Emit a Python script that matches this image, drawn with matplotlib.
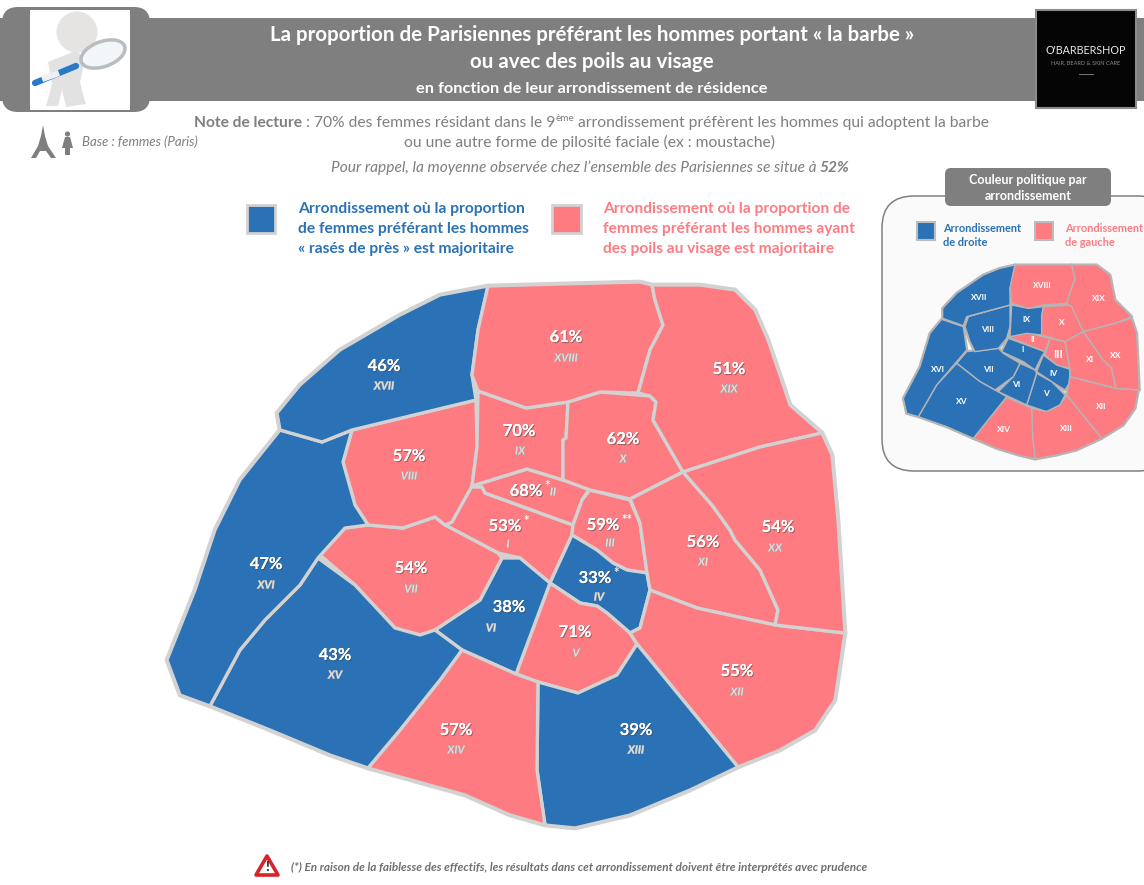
#!/usr/bin/env python3
import matplotlib
matplotlib.use('Agg')
import matplotlib.pyplot as plt
import matplotlib.patheffects as pe
from matplotlib.patches import Polygon, Rectangle, FancyBboxPatch, Circle, Ellipse

plt.rcParams['font.family'] = ['Lato', 'DejaVu Sans']

BLUE = '#2a72b5'
RED = '#fe7b82'
BORDER = '#d2d2d2'
GREY = '#7f7f7f'
TEXT = '#7f7f7f'

arrondissements = ['I', 'II', 'III', 'IV', 'V', 'VI', 'VII', 'VIII', 'IX', 'X',
                   'XI', 'XII', 'XIII', 'XIV', 'XV', 'XVI', 'XVII', 'XVIII', 'XIX', 'XX']
pct_barbe = [53, 68, 59, 33, 71, 38, 54, 57, 70, 62,
             56, 55, 39, 57, 43, 47, 46, 61, 51, 54]
etoiles = ['*', '*', '**', '*', '', '', '', '', '', '',
           '', '', '', '', '', '', '', '', '', '']
droite = ['I', 'IV', 'V', 'VI', 'VII', 'VIII', 'IX', 'XV', 'XVI', 'XVII']
moyenne = 52

# shapes of the districts, in pixels of the picture
shapes = {
    'I': [(470,487),(482,487),(485,493),(573,525),(572,535),(550,583),(520,558),(498,553),(445,525),(452,522)],
    'II': [(472,486),(527,469),(563,480),(590,488),(582,500),(573,525),(485,493),(482,487)],
    'III': [(590,490),(630,500),(640,523),(647,573),(627,570),(613,563),(597,550),(572,535),(573,525),(582,500)],
    'IV': [(572,535),(597,550),(613,563),(627,570),(647,573),(650,590),(640,628),(630,633),(607,613),(597,606),(580,603),(550,583)],
    'V': [(550,583),(580,603),(597,606),(607,613),(630,633),(637,644),(617,675),(578,693),(538,682),(516,674)],
    'VI': [(502,558),(520,558),(550,583),(516,674),(462,650),(435,630),(480,600)],
    'VII': [(368,525),(403,528),(435,517),(445,525),(498,553),(502,558),(480,600),(435,630),(420,635),(395,628),(355,585),(320,555),(345,528)],
    'VIII': [(476,400),(477,447),(472,486),(452,522),(445,525),(435,517),(403,528),(368,525),(355,505),(343,462),(352,430)],
    'IX': [(478,391),(526,408),(568,402),(566,438),(563,440),(563,480),(527,469),(472,486),(477,447)],
    'X': [(568,402),(600,392),(650,396),(656,402),(653,420),(683,472),(630,499),(590,490),(563,480),(563,440),(566,438)],
    'XI': [(683,472),(712,505),(730,530),(735,540),(760,570),(778,610),(775,625),(697,608),(650,590),(647,573),(640,523),(630,499)],
    'XII': [(650,590),(697,608),(775,625),(845,633),(835,700),(815,730),(780,750),(738,767),(637,644),(630,633),(640,628)],
    'XIII': [(538,682),(578,693),(617,675),(637,644),(738,767),(690,790),(630,815),(575,828),(545,825),(537,770)],
    'XIV': [(462,650),(516,674),(538,682),(537,770),(545,825),(510,815),(465,795),(368,768),(400,730),(440,680)],
    'XV': [(318,558),(355,585),(395,628),(420,635),(435,630),(462,650),(440,680),(400,730),(368,768),(330,755),(270,730),(210,706),(240,650),(265,620),(300,585)],
    'XVI': [(280,430),(322,442),(352,430),(343,462),(355,505),(368,525),(345,528),(318,558),(300,585),(265,620),(240,650),(210,706),(180,695),(167,660),(195,590),(215,530),(240,480)],
    'XVII': [(488,286),(478,330),(472,375),(476,400),(352,430),(322,442),(280,430),(277,413),(300,385),(340,350),(400,315),(440,295)],
    'XVIII': [(488,286),(560,284),(640,282),(652,285),(655,300),(663,325),(650,350),(638,393),(600,392),(568,402),(526,408),(478,391),(472,375),(478,330)],
    'XIX': [(652,285),(700,285),(735,290),(755,310),(768,340),(780,375),(790,405),(822,433),(760,447),(683,472),(653,420),(656,402),(650,396),(638,393),(650,350),(663,325),(655,300)],
    'XX': [(683,472),(760,447),(822,433),(832,455),(838,520),(845,633),(775,625),(778,610),(760,570),(735,540),(730,530),(712,505)],
}

# same districts on the small map, in 3x crop pixels from (870, 160)
small_shapes = {
    'I': [(415,535),(525,575),(515,590),(495,630),(460,605),(395,575)],
    'II': [(420,530),(470,518),(540,535),(525,575),(425,535)],
    'III': [(540,535),(585,545),(600,625),(560,615),(525,585)],
    'IV': [(520,585),(560,615),(600,628),(598,670),(585,690),(545,665),(500,635)],
    'V': [(500,640),(545,665),(585,705),(570,735),(530,755),(470,735)],
    'VI': [(450,610),(495,630),(500,640),(470,735),(385,695),(430,650)],
    'VII': [(290,575),(385,565),(400,580),(450,610),(430,650),(375,690),(330,665),(260,610)],
    'VIII': [(420,435),(420,500),(410,535),(385,565),(315,575),(300,545),(285,500),(295,470)],
    'IX': [(425,435),(475,445),(520,440),(515,470),(515,525),(470,520),(420,530)],
    'X': [(520,440),(605,435),(640,515),(585,545),(515,525),(515,470)],
    'XI': [(585,545),(640,515),(700,600),(725,625),(738,685),(660,665),(600,650),(600,625)],
    'XII': [(600,650),(735,685),(805,690),(795,745),(760,795),(695,835),(590,705)],
    'XIII': [(485,745),(530,755),(570,735),(590,705),(695,835),(620,870),(560,885),(495,897),(488,830)],
    'XIV': [(410,712),(485,745),(488,830),(495,897),(445,885),(380,865),(310,835)],
    'XV': [(260,610),(330,665),(375,690),(410,710),(310,835),(230,800),(145,770),(200,675)],
    'XVI': [(215,478),(280,500),(290,570),(260,605),(200,675),(145,770),(110,760),(100,715),(150,620),(180,520)],
    'XVII': [(435,315),(420,385),(420,435),(290,470),(280,497),(218,475),(218,445),(260,400),(340,345),(390,325)],
    'XVIII': [(435,315),(605,315),(615,355),(590,430),(520,435),(475,445),(425,430),(420,385)],
    'XIX': [(605,315),(680,315),(720,345),(735,420),(785,470),(735,490),(640,515),(605,440),(590,430),(615,355)],
    'XX': [(640,515),(735,490),(785,475),(800,520),(808,690),(738,685),(725,625),(700,600)],
}

# where the labels sit: percentage, then roman numeral
pct_pos = {'I':(505,526),'II':(526,491),'III':(603,525),'IV':(595,578),'V':(575,632),
           'VI':(509,607),'VII':(411,568),'VIII':(409,456),'IX':(519,431),'X':(623,439),
           'XI':(703,542),'XII':(737,671),'XIII':(636,730),'XIV':(456,730),'XV':(335,655),
           'XVI':(266,564),'XVII':(384,366),'XVIII':(566,337),'XIX':(729,369),'XX':(778,527)}
num_pos = {'I':(508,544),'II':(553,492),'III':(610,543),'IV':(599,597),'V':(576,653),
           'VI':(491,628),'VII':(411,589),'VIII':(409,476),'IX':(520,451),'X':(623,459),
           'XI':(703,562),'XII':(737,692),'XIII':(636,750),'XIV':(456,750),'XV':(335,675),
           'XVI':(266,585),'XVII':(384,386),'XVIII':(566,358),'XIX':(729,389),'XX':(775,548)}
small_pos = {'I':(457,570),'II':(487,538),'III':(563,582),'IV':(550,640),'V':(527,700),
             'VI':(438,673),'VII':(356,630),'VIII':(354,507),'IX':(469,480),'X':(575,488),
             'XI':(660,600),'XII':(695,740),'XIII':(590,805),'XIV':(402,808),'XV':(275,723),
             'XVI':(203,627),'XVII':(327,412),'XVIII':(517,378),'XIX':(687,415),'XX':(738,587)}


def px(size):
    return size * 0.72


def small_xy(p):
    return (870 + p[0] / 3, 160 + p[1] / 3)


def rounded(x0, y0, x1, y1, r, **kw):
    box = FancyBboxPatch((x0 + r, y0 + r), x1 - x0 - 2 * r, y1 - y0 - 2 * r,
                         boxstyle=f'round,pad={r},rounding_size={r}', **kw)
    ax.add_patch(box)


def runs(x, y, parts, center=False):
    # text made of several styles on one baseline
    rend = fig.canvas.get_renderer()
    made = []
    for txt, kw in parts:
        dy = kw.pop('dy', 0)
        t = ax.text(x, y + dy, txt, ha='left', va='baseline', **kw)
        made.append(t)
        x += t.get_window_extent(rend).width
    if center:
        total = x - made[0].get_position()[0]
        for t in made:
            tx, ty = t.get_position()
            t.set_position((tx - total / 2, ty))


fig = plt.figure(figsize=(11.44, 8.85), dpi=100)
ax = fig.add_axes([0, 0, 1, 1])
ax.set_xlim(0, 1144)
ax.set_ylim(885, 0)
ax.axis('off')

# header band
ax.add_patch(Rectangle((0, 18), 1144, 83, fc=GREY, ec='none'))
rounded(2, 7, 150, 112, 16, fc=GREY, ec='none')

# magnifying glass man
ax.add_patch(Rectangle((30, 10), 100, 100, fc='white', ec='none'))
ax.add_patch(Polygon([(48, 62), (78, 50), (84, 64), (80, 82), (84, 98), (86, 104), (66, 107), (62, 90),
                      (58, 106), (46, 106), (52, 84), (50, 72)], fc='#e2e2e2', ec='none'))
ax.add_patch(Circle((77, 32), 20.5, fc='#e6e4e2', ec='none'))
ax.add_patch(Ellipse((103, 54), 46, 25, angle=-20, fc='#f3f6f8', ec='#b9bdc0', lw=2.5))
ax.plot([35, 76], [83, 66], color='#2a78c8', lw=4.5, solid_capstyle='round')
ax.plot([45, 56], [78, 74], color='#f0f0f0', lw=4.5)

# logo
ax.add_patch(Rectangle((1036, 10), 100, 98, fc='#050505', ec='#8c8c8c', lw=1.5, zorder=3))
ax.text(1086, 50, "O'BARBERSHOP", color='#e8e8e8', fontsize=px(10.8), ha='center', va='center', zorder=4)
ax.text(1086, 63, 'HAIR, BEARD & SKIN CARE', color='#8a8a8a', fontsize=px(5.7), ha='center', va='center', zorder=4)
ax.plot([1079, 1093], [73.5, 73.5], color='#777777', lw=0.7, zorder=4)

# title
ax.text(592, 35, 'La proportion de Parisiennes préférant les hommes portant « la barbe »',
        color='white', fontsize=px(20.5), fontweight='bold', ha='center', va='center')
ax.text(592, 62, 'ou avec des poils au visage', color='white', fontsize=px(20.5),
        fontweight='bold', ha='center', va='center')
ax.text(592, 89, 'en fonction de leur arrondissement de résidence', color='white',
        fontsize=px(16.4), fontweight='bold', ha='center', va='center')

# note
runs(194, 127, [('Note de lecture', dict(color=TEXT, fontsize=px(15.6), fontweight='bold')),
                (' : 70% des femmes résidant dans le 9', dict(color=TEXT, fontsize=px(15.6))),
                ('ème', dict(color=TEXT, fontsize=px(10), dy=-6)),
                (' arrondissement préfèrent les hommes qui adoptent la barbe',
                 dict(color=TEXT, fontsize=px(15.6)))])
ax.text(590, 142, 'ou une autre forme de pilosité faciale (ex : moustache)', color=TEXT,
        fontsize=px(15.6), ha='center', va='center')
runs(590, 172, [('Pour rappel, la moyenne observée chez l’ensemble des Parisiennes se situe à ',
                 dict(color=TEXT, fontsize=px(15.5), fontstyle='italic')),
                (f'{moyenne}%', dict(color=TEXT, fontsize=px(15.5), fontstyle='italic', fontweight='bold'))],
     center=True)

# base: tower and woman
ax.add_patch(Polygon([(43, 125), (45, 136), (48, 146), (56, 158), (51, 158), (46, 151), (40, 151),
                      (36, 158), (31, 158), (38, 146), (41, 136)], fc=GREY, ec='none'))
ax.add_patch(Circle((67.5, 134), 2.6, fc=GREY, ec='none'))
ax.add_patch(Polygon([(65, 137), (70, 137), (73, 148), (70, 148), (70, 155), (65, 155), (65, 148), (62, 148)],
                     fc=GREY, ec='none'))
ax.text(82, 142, 'Base : femmes (Paris)', color=TEXT, fontsize=px(13.2), fontstyle='italic', va='center')

# main legend
ax.add_patch(Rectangle((247, 205), 28, 28, fc=BLUE, ec=BORDER, lw=2))
ax.add_patch(Rectangle((552, 205), 29, 28, fc=RED, ec=BORDER, lw=2))
for y, line in zip([209, 229, 249], ['Arrondissement où la proportion',
                                     'de femmes préférant les hommes',
                                     '« rasés de près » est majoritaire']):
    ax.text(298, y, line, color=BLUE, fontsize=px(15.6), fontweight='bold', va='center')
for y, line in zip([209, 229, 249], ['Arrondissement où la proportion de',
                                     'femmes préférant les hommes ayant',
                                     'des poils au visage est majoritaire']):
    ax.text(603, y, line, color=RED, fontsize=px(15.5), fontweight='bold', va='center')

# inset panel
rounded(882, 196, 1170, 471, 32, fc='#fafafa', ec='#808080', lw=1.1)
rounded(945, 168, 1111, 206, 6, fc=GREY, ec='none', zorder=3)
ax.text(1028, 180, 'Couleur politique par', color='white', fontsize=px(12.5), fontweight='bold',
        ha='center', va='center', zorder=4)
ax.text(1028, 196, 'arrondissement', color='white', fontsize=px(12.5), fontweight='bold',
        ha='center', va='center', zorder=4)
ax.add_patch(Rectangle((917, 222), 18, 18, fc=BLUE, ec='#bdbdbd', lw=1.5))
ax.add_patch(Rectangle((1035, 222), 18, 18, fc=RED, ec='#bdbdbd', lw=1.5))
ax.text(943, 228, 'Arrondissement', color=BLUE, fontsize=px(11), fontweight='bold', va='center')
ax.text(943, 242, 'de droite', color=BLUE, fontsize=px(11), fontweight='bold', va='center')
ax.text(1065, 228, 'Arrondissement', color=RED, fontsize=px(11), fontweight='bold', va='center')
ax.text(1065, 242, 'de gauche', color=RED, fontsize=px(11), fontweight='bold', va='center')

# grey underlay closes the small gaps between district shapes
for name in arrondissements:
    ax.add_patch(Polygon([small_xy(p) for p in small_shapes[name]], closed=True, fc='#b5b5b5',
                         ec='#b5b5b5', lw=2.2, joinstyle='round'))
for name in arrondissements:
    pts = [small_xy(p) for p in small_shapes[name]]
    col = BLUE if name in droite else RED
    ax.add_patch(Polygon(pts, closed=True, fc=col, ec='#b5b5b5', lw=1.0, joinstyle='round'))
for name in arrondissements:
    x, y = small_xy(small_pos[name])
    big = name == 'III'
    ax.text(x, y, name, color='white', fontsize=px(11 if big else 8.5), fontweight='bold', ha='center', va='center')

# main map
for name in arrondissements:
    ax.add_patch(Polygon(shapes[name], closed=True, fc=BORDER, ec=BORDER, lw=3.4, joinstyle='round'))
for name, val in zip(arrondissements, pct_barbe):
    col = BLUE if val < 50 else RED
    ax.add_patch(Polygon(shapes[name], closed=True, fc=col, ec=BORDER, lw=2.4, joinstyle='round'))

shadow = [pe.withSimplePatchShadow(offset=(0.8, -0.8), shadow_rgbFace='#444444', alpha=0.5), pe.Normal()]
for name, val, star in zip(arrondissements, pct_barbe, etoiles):
    x, y = pct_pos[name]
    t = ax.text(x, y, f'{val}%', color='white', fontsize=px(16.5), fontweight='bold',
                ha='center', va='center', zorder=5)
    t.set_path_effects(shadow)
    if star:
        ax.text(x + 18, y - 5, star, color='white', fontsize=px(13), fontweight='bold',
                ha='left', va='center', zorder=5)
    nx, ny = num_pos[name]
    n = ax.text(nx, ny, name, color='#dedede', fontsize=px(11), fontweight='bold', fontstyle='italic',
                ha='center', va='center', zorder=5)
    n.set_path_effects([pe.withStroke(linewidth=0.6, foreground='#a0a0a0')])

# warning note
ax.add_patch(Polygon([(267, 856), (278, 875), (256, 875)], closed=True, fc='white', ec='#d8232a',
                     lw=2.6, joinstyle='round'))
ax.text(267, 867, '!', color='#222222', fontsize=px(14), fontweight='bold', ha='center', va='center')
ax.text(291, 867, '(*) En raison de la faiblesse des effectifs, les résultats dans cet arrondissement doivent être interprétés avec prudence',
        color='#6f6f6f', fontsize=px(11.7), fontstyle='italic', fontweight='bold', va='center')

fig.savefig('out.png', dpi=100)
